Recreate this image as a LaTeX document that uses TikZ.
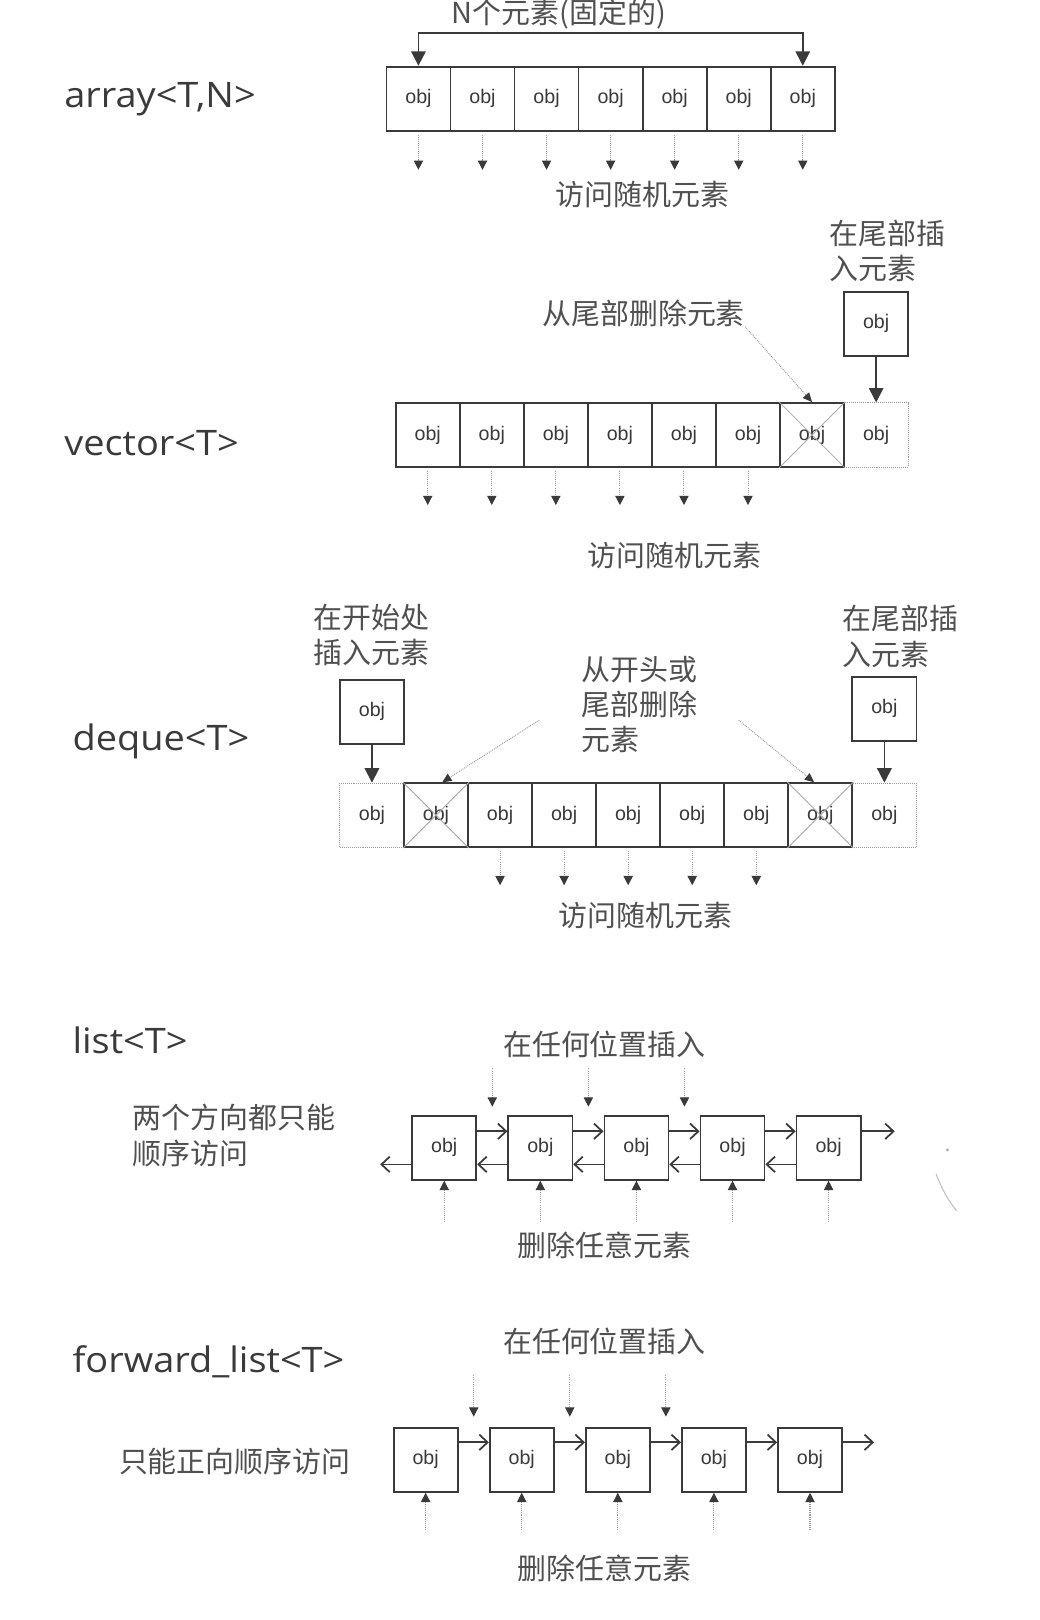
\documentclass[tikz,border=0pt]{standalone}
\usepackage{fontspec}
\setmainfont{Liberation Sans}
\newfontfamily\cjk{Noto Sans CJK SC}
\newfontfamily\titlefont[FakeStretch=1.08]{Open Sans}
\usetikzlibrary{arrows.meta,calc}
\definecolor{linec}{HTML}{3A3A3A}
\definecolor{textc}{HTML}{505050}
\definecolor{dotc}{HTML}{9A9A9A}
\definecolor{crossc}{HTML}{A8A8A8}
\begin{document}
\begin{tikzpicture}[x=1pt,y=-1pt,
  cell/.style={draw=linec, line width=1.7pt, minimum width=62pt, minimum height=62pt, inner sep=0pt, font=\fontsize{19}{19}\selectfont, text=linec},
  ghost/.style={cell, draw=dotc, line width=0.9pt, densely dotted},
  ttl/.style={anchor=base west, font=\titlefont\fontsize{34}{34}\selectfont, text=linec, inner sep=0pt},
  zh/.style={font=\cjk\fontsize{28}{34}\selectfont, text=textc, inner sep=0pt},
  zhl/.style={zh, align=left, anchor=west},
  solidarr/.style={draw=linec, line width=1.7pt, -{Triangle[length=14pt,width=14pt]}},
  dotarr/.style={draw=dotc, line width=1pt, densely dotted, -{Triangle[length=9pt,width=9pt,color=linec]}},
  leader/.style={draw=dotc, line width=0.9pt, densely dotted, -{Triangle[length=9pt,width=8pt,color=linec]}},
  linkarr/.style={draw=linec, line width=1.7pt, -{Straight Barb[length=8pt,width=15pt]}},
  crossline/.style={draw=crossc, line width=0.8pt}
]
\useasboundingbox (0,0) rectangle (1006,1568);
\fill[white] (0,0) rectangle (1006,1568);

% ---------------- array ----------------
\node[ttl] (tarr) at (62,104) {array<T,N>};
\node[zh] (aN) at (541,14) {N个元素(固定的)};
\foreach \i in {1,...,7} \node[cell] (a\i) at ({405+62*(\i-1)},95.5) {obj};
\coordinate (abr) at (591,32);
\draw[solidarr] (abr) -| (a1);
\draw[solidarr] (abr) -| (a7);
\foreach \i in {1,...,7} \draw[dotarr] ([yshift=-3pt]a\i.south) -- ([yshift=-37pt]a\i.south);
\node[zh] (aacc) at (622,188) {访问随机元素};

% ---------------- vector ----------------
\node[ttl] (tvec) at (62,441) {vector<T>};
\node[ghost] (v8) at (848,421) {obj};
\foreach \i in {1,...,7} \node[cell] (v\i) at ({414+62*(\i-1)},421) {obj};
\draw[crossline] (v7.north west) -- (v7.south east) (v7.north east) -- (v7.south west);
\node[cell] (vins) at (848,313.5) {obj};
\draw[solidarr] (vins) -- (v8);
\node[zhl] (vinsT) at (803,243) {在尾部插\\入元素};
\node[zh] (vdel) at (623,303) {从尾部删除元素};
\draw[leader] (vdel.south east) -- (v7.north);
\foreach \i in {1,...,6} \draw[dotarr] ([yshift=-3pt]v\i.south) -- ([yshift=-36pt]v\i.south);
\node[zh] (vacc) at (653,538) {访问随机元素};

% ---------------- deque ----------------
\node[ttl] (tdq) at (70,726) {deque<T>};
\node[ghost] (d0) at (360,789) {obj};
\node[ghost] (d8) at (856,789) {obj};
\foreach \i in {1,...,7} \node[cell] (d\i) at ({422+62*(\i-1)},789) {obj};
\draw[crossline] (d1.north west) -- (d1.south east) (d1.north east) -- (d1.south west);
\draw[crossline] (d7.north west) -- (d7.south east) (d7.north east) -- (d7.south west);
\node[cell] (dinsL) at (360,689) {obj};
\node[cell] (dinsR) at (856,686) {obj};
\draw[solidarr] (dinsL) -- (d0);
\draw[solidarr] (dinsR) -- (d8);
\node[zhl] (dinsLT) at (303,615) {在开始处\\插入元素};
\node[zhl] (dinsRT) at (815,616) {在尾部插\\入元素};
\node[zhl] (ddel) at (563,682) {从开头或\\尾部删除\\元素};
\coordinate (dq1) at (522,697);
\coordinate (dq2) at (715,697);
\draw[leader] (dq1) -- ([xshift=6pt]d1.north);
\draw[leader] (dq2) -- ([xshift=-6pt]d7.north);
\foreach \i in {2,...,6} \draw[dotarr] ([yshift=-3pt]d\i.south) -- ([yshift=-36pt]d\i.south);
\node[zh] (dacc) at (625,886) {访问随机元素};

% ---------------- list ----------------
\node[ttl] (tlist) at (70,1020) {list<T>};
\node[zhl] (lseq) at (128,1099) {两个方向都只能\\顺序访问};
\node[zh] (lins) at (585,1011) {在任何位置插入};
\foreach \i in {1,...,5} \node[cell] (l\i) at ({430+93*(\i-1)},1111) {obj};
\foreach \i/\j in {1/2,2/3,3/4,4/5} {
  \draw[linkarr] ([yshift=16pt]l\i.east) -- ([yshift=16pt]l\j.west);
  \draw[linkarr] ([yshift=-16pt]l\j.west) -- ([yshift=-16pt]l\i.east);
}
\coordinate (lR) at (866,1095);
\coordinate (lL) at (368,1127);
\draw[linkarr] ([yshift=16pt]l5.east) -- (lR);
\draw[linkarr] ([yshift=-16pt]l1.west) -- (lL);
\foreach \i/\j in {1/2,2/3,3/4} {
  \coordinate (lg\i) at ($(l\i.north east)!.5!(l\j.north west)$);
  \draw[dotarr] ([yshift=45pt]lg\i) -- ([yshift=8pt]lg\i);
}
\foreach \i in {1,...,5} \draw[dotarr] ([yshift=-40pt]l\i.south) -- (l\i.south);
\node[zh] (ldel) at (585,1205) {删除任意元素};
\fill[gray!70] (917,1113) circle (1.5pt);
\draw[gray!50, line width=1pt] (906,1136) .. controls (912,1152) and (918,1162) .. (926,1172);

% ---------------- forward_list ----------------
\node[ttl] (tfl) at (70,1328) {forward\_list<T>};
\node[zhl] (fseq) at (115,1415) {只能正向顺序访问};
\node[zh] (fins) at (585,1298) {在任何位置插入};
\foreach \i in {1,...,5} \node[cell] (f\i) at ({412+93*(\i-1)},1413) {obj};
\foreach \i/\j in {1/2,2/3,3/4,4/5} {
  \draw[linkarr] ([yshift=17pt]f\i.east) -- ([yshift=17pt]f\j.west);
}
\coordinate (fR) at (846,1396);
\draw[linkarr] ([yshift=17pt]f5.east) -- (fR);
\foreach \i/\j in {1/2,2/3,3/4} {
  \coordinate (fg\i) at ($(f\i.north east)!.5!(f\j.north west)$);
  \draw[dotarr] ([yshift=50pt]fg\i) -- ([yshift=10pt]fg\i);
}
\foreach \i in {1,...,5} \draw[dotarr] ([yshift=-36pt]f\i.south) -- (f\i.south);
\node[zh] (fdel) at (585,1518) {删除任意元素};
\end{tikzpicture}
\end{document}
